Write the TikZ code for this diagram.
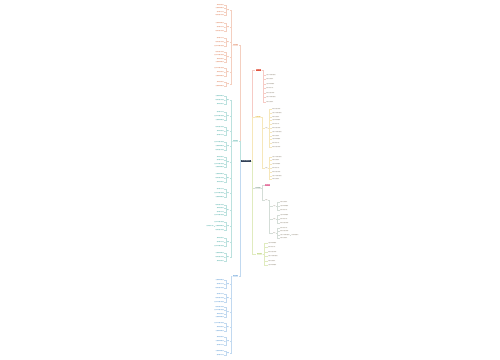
\documentclass[tikz,border=0pt]{standalone}
\usepackage{fontspec}
\newfontfamily\cjk{Noto Sans CJK SC}
\usetikzlibrary{positioning}

\definecolor{navy}{HTML}{2F3E55}
\definecolor{orng}{HTML}{D9602E}
\definecolor{tealc}{HTML}{1E9A92}
\definecolor{bluec}{HTML}{3080CC}
\definecolor{redc}{HTML}{E1523D}
\definecolor{ylw}{HTML}{E0AE1A}
\definecolor{sage}{HTML}{6F8E79}
\definecolor{pinkc}{HTML}{E573A0}
\definecolor{lime}{HTML}{98BE2A}
\definecolor{greytext}{HTML}{857B68}

\newcommand\leaftext[1]{\ifcase#1 相关内容与说明\or 主要工作要点措施\or 具体安排落实\or 注意事项和要求\or 基本情况介绍\fi}
\newcommand\subtext[1]{\ifcase#1 要点\or 内容\or 措施\or 要求\or 安排\fi}

\tikzset{
  rootbox/.style={fill=navy, text=white, font=\cjk\fontsize{3.8}{4.2}\selectfont, inner xsep=1mm, inner ysep=0.6mm},
  topic/.style={text=#1, fill=#1!18, font=\cjk\fontsize{3.4}{3.8}\selectfont, inner xsep=0.6mm, inner ysep=0.4mm,
    path picture={\draw[#1, line width=0.5mm] (path picture bounding box.south west) -- (path picture bounding box.south east);}},
  filltopic/.style={fill=#1, text=white, font=\cjk\fontsize{3.4}{3.8}\selectfont, inner xsep=0.6mm, inner ysep=0.5mm},
  subnode/.style={text=#1, font=\cjk\fontsize{3}{3.4}\selectfont, inner sep=0.3mm},
  leaf/.style={text=#1, font=\cjk\fontsize{3.3}{3.6}\selectfont, inner sep=0.2mm},
  link/.style={draw=#1!30, line width=0.12mm}
}

\begin{document}
\begin{tikzpicture}[x=1mm, y=-1mm]
\useasboundingbox[fill=white] (0,0) rectangle (500,360);

% centre
\node[rootbox] (C) at (246,161) {工作计划范文};

% left: first branch
\node[topic=orng] (L1) at (235.5,45) {工作总结};
\draw[link=orng] (C.west) -- ++(-0.8,0) |- (L1.east);
\foreach \sy/\nl [count=\i] in {10/4,27/3,42/3,57/4,72/3,84/2} {
  \pgfmathtruncatemacro\sx{mod(\i,5)}
  \node[subnode=orng, anchor=east] (a\i) at (229.5,\sy) {\subtext{\sx}};
  \draw[link=orng] (L1.west) -- ++(-1.2,0) |- (a\i.east);
  \foreach \k in {1,...,\nl} {
    \pgfmathsetmacro\ly{\sy+3.6*(\k-(\nl+1)/2)}
    \pgfmathtruncatemacro\tix{mod(\i+\k,5)}
    \node[leaf=orng, anchor=east] (a\i-\k) at (224,\ly) {\leaftext{\tix}};
    \draw[link=orng] (a\i.west) -- ++(-0.8,0) |- (a\i-\k.east);
  }
}

% left: second branch
\node[topic=tealc] (L2) at (235.5,141) {工作计划};
\draw[link=tealc] (C.west) -- ++(-0.8,0) |- (L2.east);
\foreach \sy/\nl [count=\i] in {100/3,116/3,131/3,146/3,162/4,178/3,193/3,210/4,226/3,242/3,257/3} {
  \pgfmathtruncatemacro\sx{mod(\i+2,5)}
  \node[subnode=tealc, anchor=east] (e\i) at (229.5,\sy) {\subtext{\sx}};
  \draw[link=tealc] (L2.west) -- ++(-1.2,0) |- (e\i.east);
  \foreach \k in {1,...,\nl} {
    \pgfmathsetmacro\ly{\sy+3.6*(\k-(\nl+1)/2)}
    \pgfmathtruncatemacro\tix{mod(\i+2*\k,5)}
    \node[leaf=tealc, anchor=east] (e\i-\k) at (224,\ly) {\leaftext{\tix}};
    \draw[link=tealc] (e\i.west) -- ++(-0.8,0) |- (e\i-\k.east);
  }
}
\node[leaf=tealc, left=1.5mm of e9-2] (e9-x) {基本情况介绍};
\draw[link=tealc] (e9-2.west) -- (e9-x.east);

% left: third branch
\node[topic=bluec] (L3) at (235.5,276) {其他事项};
\draw[link=bluec] (C.west) -- ++(-0.8,0) |- (L3.east);
\foreach \sy/\nl [count=\i] in {284/3,298/3,312/4,327/3,341/3,353/2} {
  \pgfmathtruncatemacro\sx{mod(\i+1,5)}
  \node[subnode=bluec, anchor=east] (f\i) at (229.5,\sy) {\subtext{\sx}};
  \draw[link=bluec] (L3.west) -- ++(-1.2,0) |- (f\i.east);
  \foreach \k in {1,...,\nl} {
    \pgfmathsetmacro\ly{\sy+3.6*(\k-(\nl+1)/2)}
    \pgfmathtruncatemacro\tix{mod(\i+\k+1,5)}
    \node[leaf=bluec, anchor=east] (f\i-\k) at (224,\ly) {\leaftext{\tix}};
    \draw[link=bluec] (f\i.west) -- ++(-0.8,0) |- (f\i-\k.east);
  }
}

% right: red branch
\node[filltopic=redc] (R1) at (258.5,70) {参考范文};
\draw[link=redc] (C.east) -- ++(0.8,0) |- (R1.west);
\foreach \k in {1,...,7} {
  \pgfmathsetmacro\ly{75+4.5*(\k-1)}
  \pgfmathtruncatemacro\tix{mod(\k,5)}
  \node[leaf=greytext, anchor=west] (g\k) at (266,\ly) {\leaftext{\tix}};
  \draw[link=redc] (R1.east) -- ++(1,0) |- (g\k.west);
}

% right: yellow branch
\node[topic=ylw] (R2) at (258,117) {主要内容};
\draw[link=ylw] (C.east) -- ++(0.8,0) |- (R2.west);
\foreach \sy/\nl [count=\i] in {128/11, 168/7} {
  \node[subnode=greytext, anchor=west] (b\i) at (265,\sy) {\subtext{\i}};
  \draw[link=ylw] (R2.east) -- ++(1,0) |- (b\i.west);
  \foreach \k in {1,...,\nl} {
    \pgfmathsetmacro\ly{\sy+3.8*(\k-(\nl+1)/2)}
    \pgfmathtruncatemacro\tix{mod(\i+\k+3,5)}
    \node[leaf=greytext, anchor=west] (b\i-\k) at (272,\ly) {\leaftext{\tix}};
    \draw[link=ylw] (b\i.east) -- ++(0.8,0) |- (b\i-\k.west);
  }
}

% right: sage branch
\node[topic=sage] (R3) at (258,188) {具体措施};
\draw[link=sage] (C.east) -- ++(0.8,0) |- (R3.west);
\node[filltopic=pinkc, anchor=west, font=\cjk\fontsize{3}{3.4}\selectfont] (h0) at (265,185) {重点工作};
\draw[link=sage] (R3.east) -- ++(1,0) |- (h0.west);
\node[subnode=greytext, anchor=west] (c1) at (265,200) {措施};
\draw[link=sage] (R3.east) -- ++(1,0) |- (c1.west);
\foreach \sy/\nl [count=\i] in {206/3, 219/3, 233/4} {
  \node[subnode=greytext, anchor=west] (d\i) at (273,\sy) {\subtext{\i}};
  \draw[link=sage] (c1.east) -- ++(0.8,0) |- (d\i.west);
  \foreach \k in {1,...,\nl} {
    \pgfmathsetmacro\ly{\sy+3.6*(\k-(\nl+1)/2)}
    \pgfmathtruncatemacro\tix{mod(\i+\k,5)}
    \node[leaf=greytext, anchor=west] (d\i-\k) at (280,\ly) {\leaftext{\tix}};
    \draw[link=sage] (d\i.east) -- ++(0.8,0) |- (d\i-\k.west);
  }
}
\node[leaf=greytext, right=1.5mm of d3-3] (d3-x) {具体安排落实};
\draw[link=sage] (d3-3.east) -- (d3-x.west);

% right: lime branch
\node[topic=lime] (R4) at (259.5,254) {相关要求};
\draw[link=lime] (C.east) -- ++(0.8,0) |- (R4.west);
\foreach \k in {1,...,6} {
  \pgfmathsetmacro\ly{243+4.4*(\k-1)}
  \pgfmathtruncatemacro\tix{mod(\k+2,5)}
  \node[leaf=greytext, anchor=west] (r\k) at (268,\ly) {\leaftext{\tix}};
  \draw[link=lime] (R4.east) -- ++(1,0) |- (r\k.west);
}
\end{tikzpicture}
\end{document}
